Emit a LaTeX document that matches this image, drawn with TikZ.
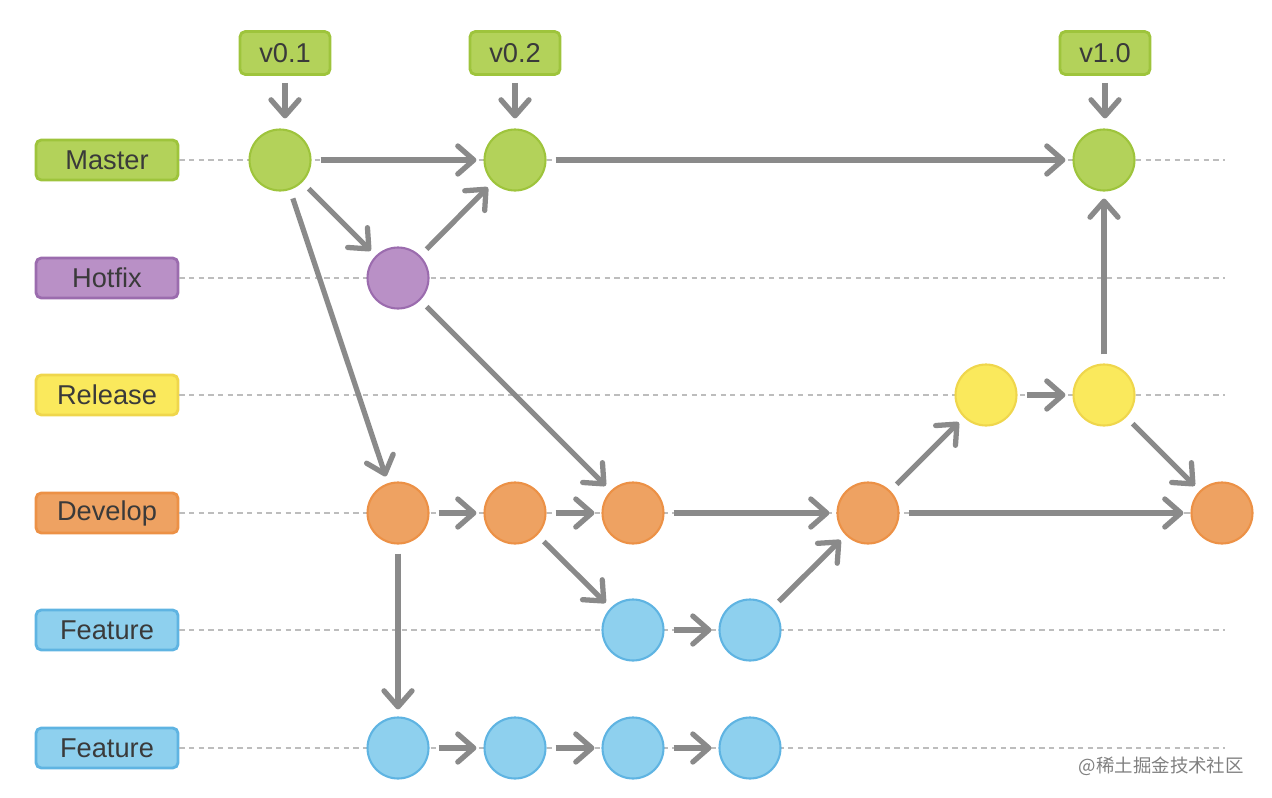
\documentclass[tikz,border=0pt]{standalone}
\usepackage{fontspec}
\setmainfont{Liberation Sans}
\newfontfamily\cjk{Noto Sans CJK SC}
\usepackage{xcolor}
\usetikzlibrary{positioning, calc, arrows.meta}

\definecolor{mgreen}{HTML}{B3D25A}
\definecolor{mgreenD}{HTML}{9EC43C}
\definecolor{mpurple}{HTML}{B990C6}
\definecolor{mpurpleD}{HTML}{9B6CAE}
\definecolor{myellow}{HTML}{FAE95C}
\definecolor{myellowD}{HTML}{EFD64C}
\definecolor{morange}{HTML}{EEA262}
\definecolor{morangeD}{HTML}{EC9146}
\definecolor{mblue}{HTML}{8ED0EE}
\definecolor{mblueD}{HTML}{5FB4E2}
\definecolor{flowgray}{HTML}{8A8A8A}
\definecolor{lanegray}{HTML}{BDBDBD}
\definecolor{textgray}{HTML}{3A3A3A}

\tikzset{
  gcol/.style={fill=mgreen, draw=mgreenD},
  pcol/.style={fill=mpurple, draw=mpurpleD},
  ycol/.style={fill=myellow, draw=myellowD},
  ocol/.style={fill=morange, draw=morangeD},
  bcol/.style={fill=mblue, draw=mblueD},
}

\begin{document}
\begin{tikzpicture}[x=0.02cm, y=-0.02cm,
    commit/.style={circle, minimum size=1.22cm, inner sep=0pt, line width=1.2pt},
    branch/.style={rounded corners=3pt, minimum width=2.84cm, minimum height=0.8cm, inner sep=0pt, line width=1.6pt, text=textgray, font=\fontsize{15.5}{18}\selectfont},
    tag/.style={branch, minimum width=1.8cm, minimum height=0.86cm},
    flow/.style={draw=flowgray, line width=3pt, -{Straight Barb[round, length=0.32cm, width=0.56cm]}, shorten <=0.18cm, shorten >=0.14cm},
    lane/.style={draw=lanegray, line width=0.6pt, dash pattern=on 3pt off 2.5pt}]
  \useasboundingbox (0,0) rectangle (1272,798);
  % branch labels
  \node[branch, gcol] (lmaster) at (107,160) {Master};
  \node[branch, pcol] (lhotfix) at (107,278) {Hotfix};
  \node[branch, ycol] (lrelease) at (107,395) {Release};
  \node[branch, ocol] (ldevelop) at (107,513) {Develop};
  \node[branch, bcol] (lfeatA) at (107,630) {Feature};
  \node[branch, bcol] (lfeatB) at (107,748) {Feature};
  % lanes
  \coordinate (lend) at (1225,0);
  \foreach \n in {lmaster,lhotfix,lrelease,ldevelop,lfeatA,lfeatB}
    \draw[lane] (\n.east) -- (\n.east -| lend);
  % commits
  \node[commit, gcol] (m1) at (280,160) {};
  \node[commit, gcol] (m2) at (515,160) {};
  \node[commit, gcol] (m3) at (1104,160) {};
  \node[commit, pcol] (h1) at (398,278) {};
  \node[commit, ycol] (r1) at (986,395) {};
  \node[commit, ycol] (r2) at (1104,395) {};
  \foreach \n/\x in {d1/398,d2/515,d3/633,d4/868,d5/1222}
    \node[commit, ocol] (\n) at (\x,513) {};
  \foreach \n/\x in {fa1/633,fa2/750}
    \node[commit, bcol] (\n) at (\x,630) {};
  \foreach \n/\x in {fb1/398,fb2/515,fb3/633,fb4/750}
    \node[commit, bcol] (\n) at (\x,748) {};
  % tags
  \node[tag, gcol] (t01) at (285,53) {v0.1};
  \node[tag, gcol] (t02) at (515,53) {v0.2};
  \node[tag, gcol] (t10) at (1105,53) {v1.0};
  \foreach \t/\c in {t01/m1,t02/m2,t10/m3}
    \draw[flow, shorten <=0.14cm, shorten >=0.2cm] (\t.south) -- (\t.south |- \c.north);
  % flows
  \draw[flow] (m1) -- (m2);
  \draw[flow] (m2) -- (m3);
  \draw[flow] (m1) -- (h1);
  \draw[flow] (h1) -- (m2);
  \draw[flow] (m1) -- (d1);
  \draw[flow] (h1) -- (d3);
  \foreach \a/\b in {d1/d2,d2/d3,d3/d4,d4/d5,d4/r1,r1/r2,r2/m3,r2/d5,d2/fa1,fa1/fa2,fa2/d4,d1/fb1,fb1/fb2,fb2/fb3,fb3/fb4}
    \draw[flow] (\a) -- (\b);
  % watermark
  \node[text=gray, font=\cjk\fontsize{10.5}{12}\selectfont, anchor=east] (mark) at (1250,766) {@稀土掘金技术社区};
\end{tikzpicture}
\end{document}
